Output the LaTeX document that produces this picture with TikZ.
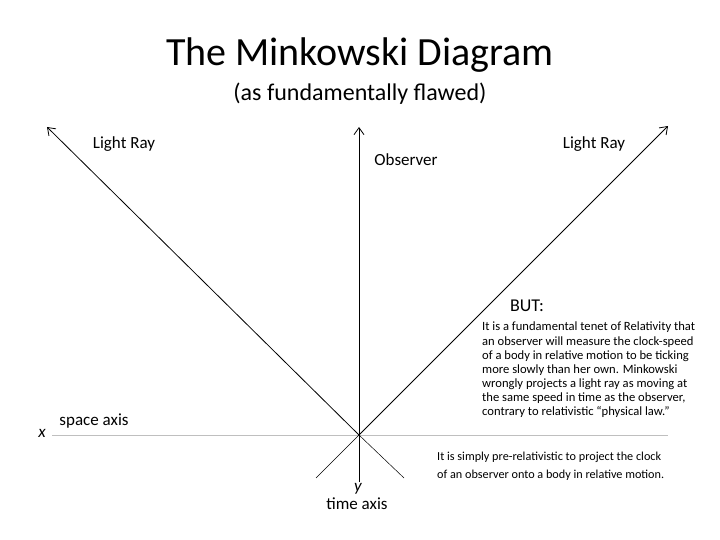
\documentclass[tikz,border=0pt]{standalone}
\usepackage{fontspec}
\setmainfont{Carlito}
\usetikzlibrary{arrows.meta}
\begin{document}
\begin{tikzpicture}[x=1pt,y=-1pt,
  ray/.style={line width=0.8pt,-{Straight Barb[length=7pt,width=10pt]}},
  thin ray/.style={line width=0.5pt},
  lab/.style={inner sep=0pt,font=\fontsize{17}{19}\selectfont},
  body/.style={inner sep=0pt,align=left,font=\fontsize{12.6}{14.1}\selectfont}]
\useasboundingbox (0,0) rectangle (720,540);
\node[inner sep=0pt,font=\fontsize{40}{44}\selectfont] (title) at (360,55) {The Minkowski Diagram};
\node[inner sep=0pt,font=\fontsize{24}{26}\selectfont] (sub) at (360,94) {(as fundamentally flawed)};
\coordinate (o) at (359,435);
\coordinate (tl) at (47,127);
\coordinate (tt) at (359,127);
\coordinate (tr) at (668,126);
\coordinate (bl) at (316,478);
\coordinate (br) at (404,478);
\coordinate (bb) at (359,482);
\coordinate (xl) at (52,435);
\coordinate (xr) at (668,435);
\draw[gray!50,line width=0.7pt] (xl) -- (xr);
\draw[ray] (o) -- (tl);
\draw[ray] (o) -- (tr);
\draw[ray] (bb) -- (tt);
\draw[thin ray] (o) -- (bl);
\draw[thin ray] (o) -- (br);
\node[lab] (lr1) at (124,144) {Light Ray};
\node[lab] (lr2) at (594,144) {Light Ray};
\node[lab] (obs) at (406,160) {Observer};
\node[lab,font=\fontsize{18}{20}\selectfont] (but) at (527,306) {BUT:};
\node[body,anchor=north west] (txt) at (482,322) {It is a fundamental tenet of Relativity that\\an observer will measure the clock-speed\\of a body in relative motion to be ticking\\more slowly than her own. Minkowski\\wrongly projects a light ray as moving at\\the same speed in time as the observer,\\contrary to relativistic “physical law.”};
\node[body,anchor=north west,font=\fontsize{12.2}{18}\selectfont] (txt2) at (437,452) {It is simply pre-relativistic to project the clock\\of an observer onto a body in relative motion.};
\node[lab] (x) at (42,433) {\itshape x};
\node[lab] (sp) at (94,421) {space axis};
\node[lab] (y) at (358,489) {\itshape y};
\node[lab] (ta) at (357,504) {time axis};
\end{tikzpicture}
\end{document}
